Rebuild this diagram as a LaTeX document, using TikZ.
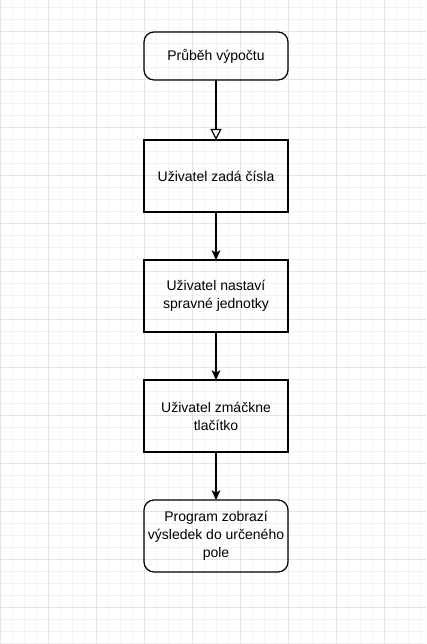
\documentclass[tikz,border=0pt]{standalone}
\usepackage{fontspec}
\setmainfont{Liberation Sans}
\usepackage{xcolor}
\usetikzlibrary{positioning,arrows.meta}
\definecolor{gridmajor}{HTML}{E3E3E3}
\definecolor{gridminor}{HTML}{F3F3F3}

\begin{document}
\begin{tikzpicture}[x=1pt, y=1pt, >={Stealth[length=10pt, width=9pt, inset=3pt]},
  box/.style={draw, line width=1.2pt, outer sep=0pt, minimum width=144pt, minimum height=72pt,
    align=center, font=\fontsize{14}{18}\selectfont},
  roundbox/.style={box, rounded corners=10pt},
  flow/.style={->, line width=1.2pt}]
  \useasboundingbox (0,0) rectangle (426,644);
  % background grid
  \begin{scope}[yshift=37pt]
    \draw[gridminor, line width=0.8pt] (0,-37) grid[step=12pt] (426,607);
    \draw[gridmajor, line width=0.8pt] (0,-37) grid[step=48pt] (426,607);
  \end{scope}
  \node[roundbox, minimum height=48pt] (start) at (216,588) {Průběh výpočtu};
  \node[box, below=60pt of start] (enter) {Uživatel zadá čísla};
  \node[box, below=48pt of enter] (units) {Uživatel nastaví\\ spravné jednotky};
  \node[box, below=48pt of units] (press) {Uživatel zmáčkne\\ tlačítko};
  \node[roundbox, below=48pt of press] (result) {Program zobrazí\\ výsledek do určeného\\ pole};
  \draw[line width=1.2pt, -{Triangle[open, length=11pt, width=11pt]}] (start) -- (enter);
  \draw[flow] (enter) -- (units);
  \draw[flow] (units) -- (press);
  \draw[flow] (press) -- (result);
\end{tikzpicture}
\end{document}
